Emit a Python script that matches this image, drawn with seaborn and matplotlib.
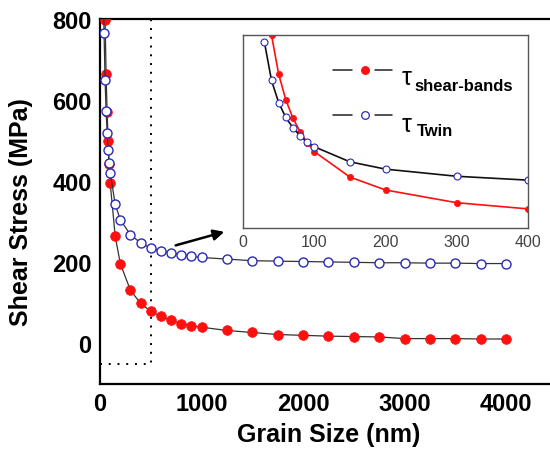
import matplotlib
matplotlib.use("Agg")
import matplotlib.pyplot as plt
import seaborn as sns
import pandas as pd
from matplotlib.ticker import MultipleLocator

# Data (grain size in nm, shear stress in MPa)
shear_size = [40, 50, 60, 70, 80, 90, 100, 150, 200, 300, 400, 500, 600, 700, 800, 900, 1000,
              1250, 1500, 1750, 2000, 2250, 2500, 2750, 3000, 3250, 3500, 3750, 4000]
shear_stress = [1000, 798, 665, 570, 500, 443, 396, 264, 197, 131, 99, 79, 67, 57, 49, 44, 40,
                32, 27, 22, 20, 18, 17, 16, 12, 12, 12, 11, 11]

twin_size = [30, 40, 50, 60, 70, 80, 90, 100, 150, 200, 300, 400, 500, 600, 700, 800, 900, 1000,
             1250, 1500, 1750, 2000, 2250, 2500, 2750, 3000, 3250, 3500, 3750, 4000]
twin_stress = [964, 765, 650, 573, 520, 478, 444, 421, 343, 305, 268, 248, 235, 228, 224, 219, 215, 212,
               208, 204, 203, 202, 201, 200, 199, 199, 198, 198, 197, 197]

shear_df = pd.DataFrame({"size": shear_size, "stress": shear_stress})
twin_df = pd.DataFrame({"size": twin_size, "stress": twin_stress})

sns.set_style("white")
plt.rcParams["font.family"] = ["Liberation Sans", "DejaVu Sans"]
plt.rcParams["text.color"] = "black"
plt.rcParams["axes.labelcolor"] = "black"

RED = "#ff1010"
BLUE = "#2a2ab8"

fig = plt.figure(figsize=(5.5, 4.6), dpi=100)
ax = fig.add_axes([100 / 550, 75 / 460, 456.75 / 550, 365 / 460])

# main curves
sns.lineplot(data=shear_df, x="size", y="stress", ax=ax, color="#333333", lw=0.9,
             marker="o", markersize=7, markerfacecolor=RED, markeredgecolor=RED,
             markeredgewidth=0.5, estimator=None, sort=False, zorder=3)
sns.lineplot(data=twin_df, x="size", y="stress", ax=ax, color="#333333", lw=0.9,
             marker="o", markersize=6.5, markerfacecolor="white", markeredgecolor=BLUE,
             markeredgewidth=1.0, estimator=None, sort=False, zorder=3)

ax.set_xlim(0, 4500)
ax.set_ylim(-100, 800)
ax.set_xticks([0, 1000, 2000, 3000, 4000])
ax.set_yticks([0, 200, 400, 600, 800])
ax.xaxis.set_minor_locator(MultipleLocator(500))
ax.yaxis.set_minor_locator(MultipleLocator(100))
ax.tick_params(which="major", direction="in", length=7, width=1.3, pad=6,
               labelsize=17, colors="black")
ax.tick_params(which="minor", direction="in", length=4, width=1.0, colors="black")
for lab in ax.get_xticklabels() + ax.get_yticklabels():
    lab.set_fontweight("bold")
for sp in ax.spines.values():
    sp.set_linewidth(1.6)
    sp.set_color("black")
ax.set_xlabel("Grain Size (nm)", fontsize=18, fontweight="bold", labelpad=5)
ax.set_ylabel("Shear Stress (MPa)", fontsize=18, fontweight="bold")
ax.yaxis.set_label_coords(-0.147, 0.474)

# dotted zoom box
ax.plot([0, 500, 500, 0], [-50, -50, 800, 800], color="black", lw=1.4,
        ls=(0, (1, 3.5)), clip_on=False, zorder=2)

# arrow towards inset
ax.annotate("", xy=(1251, 277), xytext=(719, 240),
            arrowprops=dict(arrowstyle="-|>", color="black", lw=1.8, mutation_scale=16))

# inset
ins = fig.add_axes([243 / 550, (460 - 229) / 460, 285 / 550, 193 / 460])
ins.set_facecolor("white")
sns.lineplot(data=shear_df, x="size", y="stress", ax=ins, color=RED, lw=1.2,
             marker="o", markersize=4.5, markerfacecolor=RED, markeredgecolor=RED,
             markeredgewidth=0.5, estimator=None, sort=False)
sns.lineplot(data=twin_df, x="size", y="stress", ax=ins, color="#111111", lw=1.2,
             marker="o", markersize=5, markerfacecolor="white", markeredgecolor=BLUE,
             markeredgewidth=0.8, estimator=None, sort=False)
ins.set_xlim(0, 400)
ins.set_ylim(0, 1000)
ins.set_xticks([0, 100, 200, 300, 400])
ins.xaxis.set_minor_locator(MultipleLocator(50))
ins.set_yticks(range(100, 1000, 100))
ins.set_yticklabels([])
ins.set_xlabel("")
ins.set_ylabel("")
ins.tick_params(which="major", direction="in", length=4, width=0.8, pad=4,
                labelsize=11.5, colors="#555555", labelcolor="#444444")
ins.tick_params(which="minor", direction="in", length=2.5, width=0.8, colors="#555555")
for sp in ins.spines.values():
    sp.set_linewidth(1.0)
    sp.set_color("#555555")

# legend drawn inside inset
T = ins.transAxes
for yy, face, edge in [(0.82, RED, RED), (0.587, "white", BLUE)]:
    ins.plot([0.316, 0.382], [yy, yy], color="#222222", lw=1.1, transform=T)
    ins.plot([0.463, 0.523], [yy, yy], color="#222222", lw=1.1, transform=T)
    ins.plot([0.428], [yy], marker="o", ms=5.5, mfc=face, mec=edge, mew=0.9,
             transform=T, ls="none")
ins.text(0.558, 0.746, "τ", transform=T, fontsize=18, va="baseline", ha="left")
ins.text(0.603, 0.717, "shear-bands", transform=T, fontsize=12, fontweight="bold",
         va="baseline", ha="left")
ins.text(0.558, 0.503, "τ", transform=T, fontsize=18, va="baseline", ha="left")
ins.text(0.610, 0.480, "Twin", transform=T, fontsize=12, fontweight="bold",
         va="baseline", ha="left")

fig.savefig("out.png", dpi=100)
